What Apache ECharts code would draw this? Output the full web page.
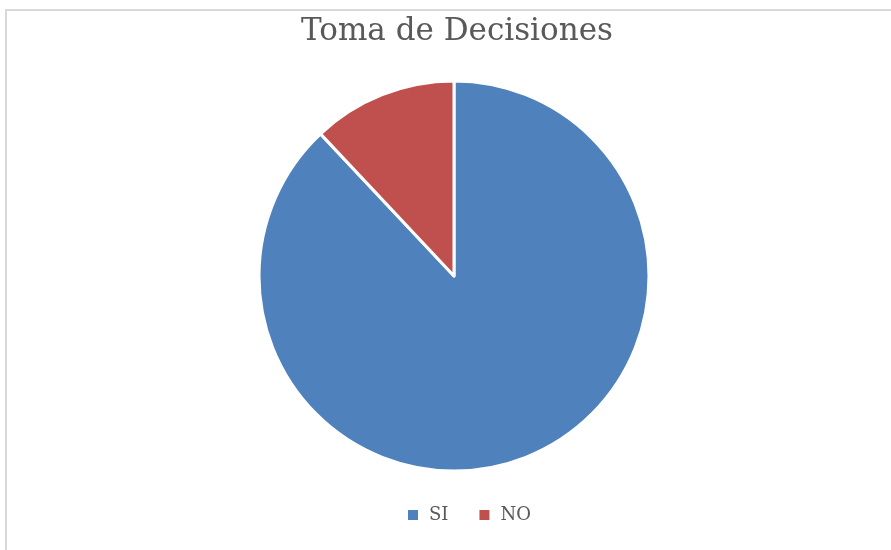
<!DOCTYPE html>
<html>
<head>
<meta charset="utf-8">
<script src="https://cdn.jsdelivr.net/npm/echarts@6/dist/echarts.min.js"></script>
<style>
  html, body { margin: 0; padding: 0; background: #ffffff; }
  #chart { width: 891px; height: 550px; }
</style>
</head>
<body>
<div id="chart"></div>
<script>
// Toma de Decisiones - pie chart
var categories = ['SI', 'NO'];
var values = [88, 12];
var colors = ['#4f81bd', '#c0504d'];

var pieData = categories.map(function (name, i) {
    return { name: name, value: values[i], itemStyle: { color: colors[i] } };
});

var chart = echarts.init(document.getElementById('chart'));
var option = {
    backgroundColor: '#ffffff',
    animation: false,
    title: {
        text: 'Toma de Decisiones',
        left: 296,
        top: 11,
        textStyle: {
            color: '#595959',
            fontFamily: 'DejaVu Serif',
            fontWeight: 'normal',
            fontSize: 31
        }
    },
    legend: {
        bottom: 21,
        left: 401,
        itemWidth: 12,
        itemHeight: 12,
        itemGap: 29,
        icon: 'rect',
        textStyle: {
            color: '#595959',
            fontFamily: 'DejaVu Serif',
            fontSize: 18,
            padding: [0, 0, 0, 5]
        },
        data: categories
    },
    graphic: [
        {
            type: 'polyline',
            shape: { points: [[6, 550], [6, 10], [891, 10]] },
            style: { stroke: '#d9d9d9', lineWidth: 2, fill: null }
        }
    ],
    series: [{
        type: 'pie',
        center: [454, 276],
        radius: [0, 195],
        startAngle: 90,
        clockwise: true,
        label: { show: false },
        labelLine: { show: false },
        itemStyle: { borderColor: '#ffffff', borderWidth: 3 },
        data: pieData
    }]
};
chart.setOption(option);
</script>
</body>
</html>
